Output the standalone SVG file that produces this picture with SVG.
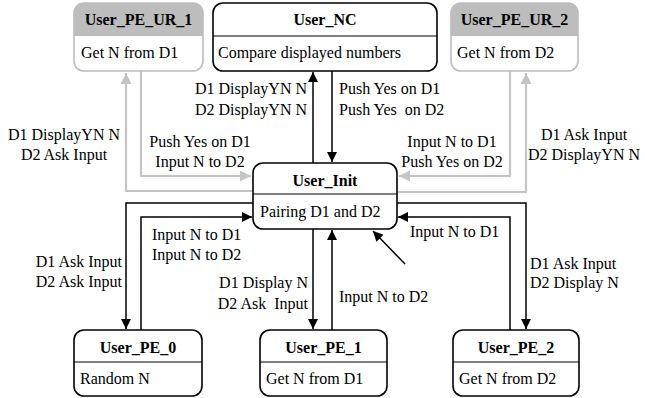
<svg xmlns="http://www.w3.org/2000/svg" width="645" height="398" viewBox="0 0 645 398">
<defs>
<style>
text{font-family:"Liberation Serif","Times New Roman",serif;font-size:16px;fill:#000}
.t{font-weight:bold;font-size:16px;text-anchor:middle}
.box{fill:#fff;stroke:#000;stroke-width:1.6}
.div{stroke:#000;stroke-width:1}
.c{fill:none;stroke:#000;stroke-width:1.5}
.g{fill:none;stroke:#c4c4c4;stroke-width:2.2}
.m{text-anchor:middle}
.e{text-anchor:end}
</style>
<marker id="ab" viewBox="0 0 10 10" refX="10" refY="5" markerWidth="10" markerHeight="10" markerUnits="userSpaceOnUse" orient="auto"><path d="M0,0L10,5L0,10z" fill="#000"/></marker>
<marker id="ag" viewBox="0 0 10 10" refX="10" refY="5" markerWidth="11" markerHeight="11" markerUnits="userSpaceOnUse" orient="auto"><path d="M0,0L10,5L0,10z" fill="#c4c4c4"/></marker>
<clipPath id="c1"><rect x="74" y="3" width="129" height="68" rx="10"/></clipPath>
<clipPath id="c2"><rect x="451" y="3" width="127" height="68" rx="10"/></clipPath>
</defs>
<g id="connectors">
<path class="g" d="M141,71V176H251" marker-end="url(#ag)"/>
<path class="g" d="M253,191H126V73" marker-end="url(#ag)"/>
<path class="g" d="M510,71V176H399" marker-end="url(#ag)"/>
<path class="g" d="M397,192H526V73" marker-end="url(#ag)"/>
<path class="c" d="M313,163V72" marker-end="url(#ab)"/>
<path class="c" d="M332,71V162" marker-end="url(#ab)"/>
<path class="c" d="M253,203H126V329" marker-end="url(#ab)"/>
<path class="c" d="M141,330V217H252" marker-end="url(#ab)"/>
<path class="c" d="M313,229V329" marker-end="url(#ab)"/>
<path class="c" d="M332,330V230" marker-end="url(#ab)"/>
<path class="c" d="M397,203H526V329" marker-end="url(#ab)"/>
<path class="c" d="M510,330V217H398" marker-end="url(#ab)"/>
<path class="c" d="M405,264L373,231" marker-end="url(#ab)"/>
</g>
<g id="labels">
<text class="m" x="64" y="140">D1 DisplayYN N</text>
<text class="m" x="64" y="160">D2 Ask Input</text>
<text class="e" x="307" y="94">D1 DisplayYN N</text>
<text class="e" x="307" y="115">D2 DisplayYN N</text>
<text x="339" y="94">Push Yes on D1</text>
<text x="339" y="115" xml:space="preserve">Push Yes  on D2</text>
<text class="m" x="200" y="147">Push Yes on D1</text>
<text class="m" x="200" y="167">Input N to D2</text>
<text class="m" x="452" y="147">Input N to D1</text>
<text class="m" x="452" y="167">Push Yes on D2</text>
<text class="m" x="584" y="140">D1 Ask Input</text>
<text class="m" x="584" y="160">D2 DisplayYN N</text>
<text class="e" x="122" y="267">D1 Ask Input</text>
<text class="e" x="122" y="287">D2 Ask Input</text>
<text x="152" y="240">Input N to D1</text>
<text x="152" y="260">Input N to D2</text>
<text class="e" x="308" y="288">D1 Display N</text>
<text class="e" x="308" y="309" xml:space="preserve">D2 Ask  Input</text>
<text x="339" y="302">Input N to D2</text>
<text x="410" y="237">Input N to D1</text>
<text x="530" y="269">D1 Ask Input</text>
<text x="530" y="288">D2 Display N</text>
</g>
<g id="User_PE_UR_1">
<rect x="74" y="3" width="129" height="68" rx="10" fill="#fff"/>
<rect x="74" y="3" width="129" height="33" fill="#bdbdbd" clip-path="url(#c1)"/>
<rect x="74" y="3" width="129" height="68" rx="10" fill="none" stroke="#bdbdbd" stroke-width="1.6"/>
<text class="t" x="138.5" y="25">User_PE_UR_1</text>
<text x="81" y="58">Get N from D1</text>
</g>
<g id="User_NC">
<rect class="box" x="213" y="3" width="224" height="68" rx="10"/>
<line class="div" x1="213" y1="36" x2="437" y2="36"/>
<text class="t" x="325" y="25">User_NC</text>
<text x="218" y="58">Compare displayed numbers</text>
</g>
<g id="User_PE_UR_2">
<rect x="451" y="3" width="127" height="68" rx="10" fill="#fff"/>
<rect x="451" y="3" width="127" height="33" fill="#bdbdbd" clip-path="url(#c2)"/>
<rect x="451" y="3" width="127" height="68" rx="10" fill="none" stroke="#bdbdbd" stroke-width="1.6"/>
<text class="t" x="514.5" y="25">User_PE_UR_2</text>
<text x="457" y="58">Get N from D2</text>
</g>
<g id="User_Init">
<rect class="box" x="253" y="163" width="144" height="66" rx="10"/>
<line class="div" x1="253" y1="194" x2="397" y2="194"/>
<text class="t" x="325" y="186">User_Init</text>
<text x="260" y="217">Pairing D1 and D2</text>
</g>
<g id="User_PE_0">
<rect class="box" x="74" y="330" width="128" height="66" rx="10"/>
<line class="div" x1="74" y1="362" x2="202" y2="362"/>
<text class="t" x="138" y="353">User_PE_0</text>
<text x="80" y="384">Random N</text>
</g>
<g id="User_PE_1">
<rect class="box" x="260" y="330" width="127" height="66" rx="10"/>
<line class="div" x1="260" y1="362" x2="387" y2="362"/>
<text class="t" x="323.5" y="353">User_PE_1</text>
<text x="266" y="384">Get N from D1</text>
</g>
<g id="User_PE_2">
<rect class="box" x="453" y="330" width="126" height="66" rx="10"/>
<line class="div" x1="453" y1="362" x2="579" y2="362"/>
<text class="t" x="516" y="353">User_PE_2</text>
<text x="459" y="384">Get N from D2</text>
</g>
</svg>
